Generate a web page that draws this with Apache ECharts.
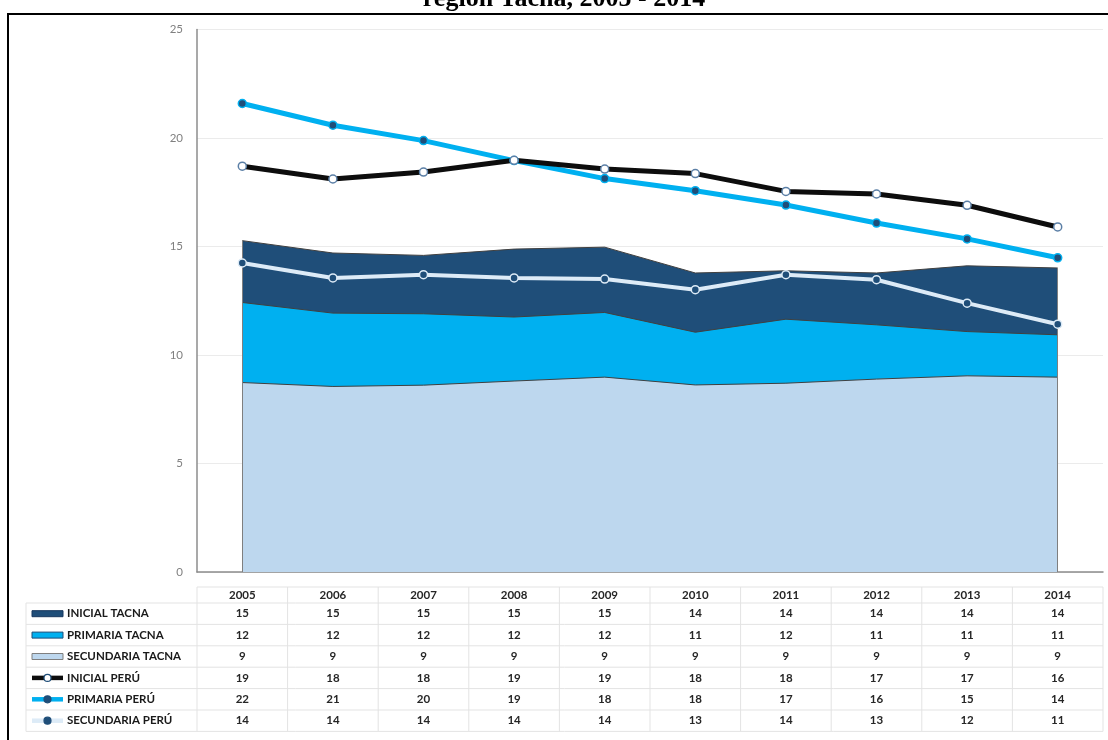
<!DOCTYPE html>
<html>
<head>
<meta charset="utf-8">
<script src="https://cdn.jsdelivr.net/npm/echarts@6/dist/echarts.min.js"></script>
<style>
  html, body { margin: 0; padding: 0; background: #fff; }
  #chartPanel { width: 1108px; height: 740px; }
</style>
</head>
<body>
<div id="chartPanel"></div>
<script>
// años (categorías del eje x)
const years = ['2005', '2006', '2007', '2008', '2009', '2010', '2011', '2012', '2013', '2014'];
const yTicks = [0, 5, 10, 15, 20, 25];

// valores
const inicialTacna = [15.27, 14.70, 14.59, 14.88, 14.97, 13.78, 13.88, 13.78, 14.11, 14.01];
const primariaTacna = [12.42, 11.93, 11.90, 11.75, 11.96, 11.05, 11.65, 11.39, 11.08, 10.93];
const secundariaTacna = [8.73, 8.55, 8.61, 8.80, 8.98, 8.62, 8.70, 8.89, 9.04, 8.98];
const inicialPeru = [18.70, 18.11, 18.43, 18.97, 18.57, 18.36, 17.54, 17.42, 16.90, 15.90];
const primariaPeru = [21.59, 20.59, 19.88, 18.96, 18.13, 17.57, 16.91, 16.08, 15.35, 14.48];
const secundariaPeru = [14.24, 13.55, 13.70, 13.55, 13.50, 13.01, 13.70, 13.47, 12.39, 11.42];

// tabla de datos (valores redondeados tal como aparecen)
const tablaInicialTacna = [15, 15, 15, 15, 15, 14, 14, 14, 14, 14];
const tablaPrimariaTacna = [12, 12, 12, 12, 12, 11, 12, 11, 11, 11];
const tablaSecundariaTacna = [9, 9, 9, 9, 9, 9, 9, 9, 9, 9];
const tablaInicialPeru = [19, 18, 18, 19, 19, 18, 18, 17, 17, 16];
const tablaPrimariaPeru = [22, 21, 20, 19, 18, 18, 17, 16, 15, 14];
const tablaSecundariaPeru = [14, 14, 14, 14, 14, 13, 14, 13, 12, 11];

const titulo = 'región Tacna, 2005 - 2014';

const navy = '#1F4E79', cyan = '#00B0F0', light = '#BDD7EE';

const rows = [
  {name: 'INICIAL TACNA', vals: tablaInicialTacna, kind: 'area', fill: navy, border: '#17375e'},
  {name: 'PRIMARIA TACNA', vals: tablaPrimariaTacna, kind: 'area', fill: cyan, border: '#1f4e79'},
  {name: 'SECUNDARIA TACNA', vals: tablaSecundariaTacna, kind: 'area', fill: light, border: '#7f7f7f'},
  {name: 'INICIAL PERÚ', vals: tablaInicialPeru, kind: 'line', line: '#0d0d0d', dot: '#fff', dotBorder: navy},
  {name: 'PRIMARIA PERÚ', vals: tablaPrimariaPeru, kind: 'line', line: cyan, dot: navy, dotBorder: navy},
  {name: 'SECUNDARIA PERÚ', vals: tablaSecundariaPeru, kind: 'line', line: '#DDEBF7', dot: navy, dotBorder: navy}
];

const chartPanel = echarts.init(document.getElementById('chartPanel'));

function areaSerie(name, data, color) {
  return {
    name: name, type: 'line', data: data,
    showSymbol: false, symbol: 'none',
    lineStyle: {color: '#404040', width: 1},
    areaStyle: {color: color, opacity: 1},
    emphasis: {disabled: true}
  };
}

function lineSerie(name, data, color, width, dot, dotBorder, size) {
  return {
    name: name, type: 'line', data: data, z: 5,
    symbol: 'circle', symbolSize: size,
    lineStyle: {color: color, width: width},
    itemStyle: {color: dot, borderColor: dotBorder, borderWidth: 1.5},
    emphasis: {disabled: true}
  };
}

const first = years[0], last = years[years.length - 1];
const bordes = areaSerie('INICIAL TACNA', inicialTacna, navy);
// bordes verticales grises a ambos lados de las áreas
bordes.markLine = {
  silent: true, symbol: 'none', label: {show: false},
  lineStyle: {color: '#7f7f7f', width: 1, type: 'solid'},
  data: [
    [{coord: [first, 0]}, {coord: [first, inicialTacna[0]]}],
    [{coord: [last, 0]}, {coord: [last, inicialTacna[inicialTacna.length - 1]]}]
  ]
};

const option = {
  animation: false,
  textStyle: {fontFamily: 'Lato'},
  grid: {left: 197, right: 5, top: 29.5, bottom: 168},
  xAxis: {
    type: 'category', data: years, boundaryGap: true,
    axisLine: {lineStyle: {color: '#8c8c8c', width: 1.5}},
    axisTick: {show: false},
    axisLabel: {color: '#262626', fontWeight: 'bold', fontSize: 11.5, margin: 17}
  },
  yAxis: {
    type: 'value', min: 0, max: 25, interval: 5,
    axisLine: {show: true, lineStyle: {color: '#8c8c8c', width: 1.5}},
    axisTick: {show: false},
    axisLabel: {color: '#808080', fontSize: 11.5, margin: 14},
    splitLine: {lineStyle: {color: '#ebebeb', width: 1}}
  },
  series: [
    bordes,
    areaSerie('PRIMARIA TACNA', primariaTacna, cyan),
    areaSerie('SECUNDARIA TACNA', secundariaTacna, light),
    lineSerie('SECUNDARIA PERÚ', secundariaPeru, '#DDEBF7', 4, navy, '#DDEBF7', 8),
    lineSerie('PRIMARIA PERÚ', primariaPeru, cyan, 5, navy, cyan, 8),
    lineSerie('INICIAL PERÚ', inicialPeru, '#0d0d0d', 5, '#fff', '#5b7fa6', 8)
  ]
};
chartPanel.setOption(option);

// tabla de datos debajo del gráfico
function buildTable() {
  const g = [];
  const centers = years.map(y => chartPanel.convertToPixel({xAxisIndex: 0}, y));
  const half = (centers[1] - centers[0]) / 2;
  const x0 = centers[0] - half, x1 = centers[centers.length - 1] + half;
  const tableLeft = 26;
  const headTop = 587, rowTop = 603, rowH = 21.4;
  const gridColor = '#e3e3e3';

  // líneas horizontales
  g.push({type: 'line', shape: {x1: x0, y1: headTop, x2: x1, y2: headTop}, style: {stroke: gridColor, lineWidth: 1}});
  for (let i = 0; i <= rows.length; i++) {
    const y = rowTop + i * rowH;
    g.push({type: 'line', shape: {x1: tableLeft, y1: y, x2: x1, y2: y}, style: {stroke: gridColor, lineWidth: 1}});
  }
  // líneas verticales
  const bottom = rowTop + rows.length * rowH;
  g.push({type: 'line', shape: {x1: tableLeft, y1: rowTop, x2: tableLeft, y2: bottom}, style: {stroke: gridColor, lineWidth: 1}});
  for (let k = 0; k <= years.length; k++) {
    const x = x0 + k * 2 * half;
    g.push({type: 'line', shape: {x1: x, y1: headTop, x2: x, y2: bottom}, style: {stroke: gridColor, lineWidth: 1}});
  }

  rows.forEach((r, i) => {
    const cy = rowTop + i * rowH + rowH / 2;
    if (r.kind === 'area') {
      g.push({type: 'rect', shape: {x: 32, y: cy - 3, width: 31, height: 6},
        style: {fill: r.fill, stroke: r.border, lineWidth: 1}});
    } else {
      g.push({type: 'line', shape: {x1: 32, y1: cy, x2: 63, y2: cy},
        style: {stroke: r.line, lineWidth: 4.5}});
      g.push({type: 'circle', shape: {cx: 47.5, cy: cy, r: 3.5},
        style: {fill: r.dot, stroke: r.dotBorder, lineWidth: 1.2}});
    }
    g.push({type: 'text', x: 67, y: cy, style: {text: r.name, fill: '#1a1a1a',
      font: 'bold 11.5px Lato', textAlign: 'left', textVerticalAlign: 'middle'}});
    r.vals.forEach((v, j) => {
      g.push({type: 'text', x: centers[j], y: cy, style: {text: String(v), fill: '#262626',
        font: 'bold 11.5px Lato', textAlign: 'center', textVerticalAlign: 'middle'}});
    });
  });

  // marco exterior y título
  g.push({type: 'rect', shape: {x: 8, y: 14, width: 1110, height: 740},
    style: {fill: 'none', stroke: '#000', lineWidth: 2}});
  g.push({type: 'text', x: 564, y: 12, style: {text: titulo, fill: '#000',
    font: 'bold 26px "Liberation Serif"', textAlign: 'center', textVerticalAlign: 'bottom'}});

  chartPanel.setOption({graphic: g});
}
buildTable();
</script>
</body>
</html>
